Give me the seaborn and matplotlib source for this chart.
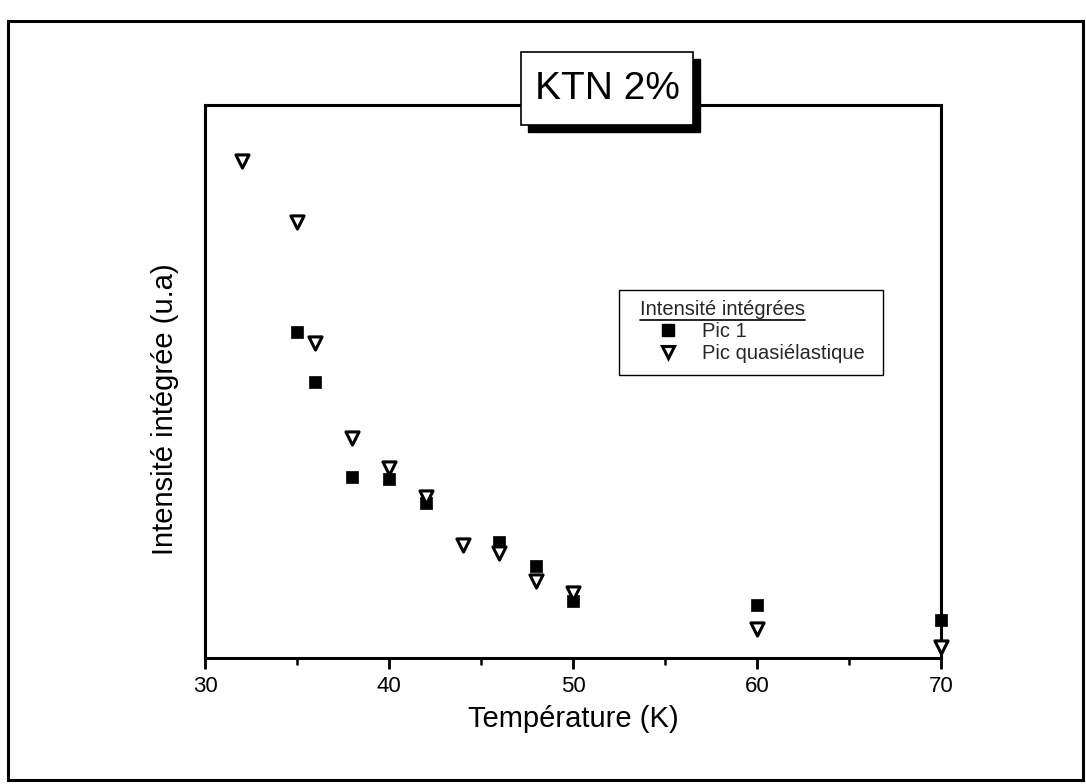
import matplotlib
matplotlib.use("Agg")
import matplotlib.pyplot as plt
from matplotlib.patches import Rectangle
from matplotlib.lines import Line2D
from matplotlib.ticker import MultipleLocator
import seaborn as sns
import pandas as pd

# ---- data (arbitrary units) ----
pic1_T = [35, 36, 38, 40, 42, 46, 48, 50, 60, 70]
pic1_I = [326, 276, 181, 179, 155, 116, 92, 57, 53, 38]
quasi_T = [32, 35, 36, 38, 40, 42, 44, 46, 48, 50, 60, 70]
quasi_I = [497, 436, 315, 220, 190, 161, 113, 105, 77, 65, 29, 11]

title = "KTN 2%"
xlabel = "Température (K)"
ylabel = "Intensité intégrée (u.a)"
legend_title = "Intensité intégrées"
label1 = "Pic 1"
label2 = "Pic quasiélastique"
xticks = [30, 40, 50, 60, 70]

sns.set_theme(style="white")
plt.rcParams["font.family"] = ["Liberation Sans", "DejaVu Sans"]

W, H = 1086, 784
fig = plt.figure(figsize=(W / 100, H / 100), dpi=100)
ax = fig.add_axes([205 / W, 1 - 658 / H, 736 / W, 553 / H])


def ax_frac(px, py):
    return ((px - 205) / 736, (658 - py) / 553)


df1 = pd.DataFrame({"T": pic1_T, "I": pic1_I})
df2 = pd.DataFrame({"T": quasi_T, "I": quasi_I})

sns.scatterplot(data=df1, x="T", y="I", ax=ax, marker="s", s=70,
                color="black", edgecolor="black", linewidth=0.5,
                label=label1, clip_on=False, zorder=3)
sns.scatterplot(data=df2, x="T", y="I", ax=ax, marker="v", s=90,
                facecolor="white", edgecolor="black", linewidth=2.2,
                label=label2, clip_on=False, zorder=4)

ax.set_xlim(30, 70)
ax.set_ylim(0, 553)
ax.set_xticks(xticks)
ax.set_xticklabels([str(t) for t in xticks])
ax.xaxis.set_minor_locator(MultipleLocator(5))
ax.set_yticks([])

for sp in ax.spines.values():
    sp.set_visible(True)
    sp.set_color("black")
    sp.set_linewidth(2.2)

ax.tick_params(axis="x", which="major", direction="out", length=8, width=2,
               color="black", labelsize=16, pad=5, bottom=True, labelcolor="black")
ax.tick_params(axis="x", which="minor", direction="out", length=5, width=1.8,
               color="black", bottom=True)

ax.set_xlabel(xlabel, fontsize=21, color="black")
ax.xaxis.set_label_coords(0.5, -0.085)
ax.set_ylabel(ylabel, fontsize=21, color="black")
ax.yaxis.set_label_coords(-0.036, 0.45)

# legend (frame drawn separately)
handles = [
    Line2D([], [], marker="s", linestyle="none", markersize=8,
           markerfacecolor="black", markeredgecolor="black"),
    Line2D([], [], marker="v", linestyle="none", markersize=9,
           markerfacecolor="white", markeredgecolor="black", markeredgewidth=2.2),
]
leg = ax.legend(handles, [label1, label2], title=legend_title,
                loc="upper left", bbox_to_anchor=ax_frac(640, 300),
                fontsize=14.5, title_fontsize=14.5, frameon=False,
                borderpad=0, labelspacing=0.15,
                handletextpad=0.3, handlelength=2.8, borderaxespad=0,
                alignment="left")
ax.add_patch(Rectangle(ax_frac(619, 375), (883 - 619) / 736, (375 - 290) / 553,
                       transform=ax.transAxes, fill=True, facecolor="white",
                       edgecolor="black", linewidth=1.0, zorder=2, clip_on=False))

# outer frame
fig.patches.append(Rectangle((8 / W, 1 - 780 / H), (1083 - 8) / W, (780 - 21) / H,
                             transform=fig.transFigure, fill=False,
                             edgecolor="black", linewidth=2.2, zorder=0))

# title box with shadow
bx0, bx1, by0, by1 = 521, 693, 52, 125
off = 7
fig.patches.append(Rectangle(((bx0 + off) / W, 1 - (by1 + off) / H),
                             (bx1 - bx0) / W, (by1 - by0) / H,
                             transform=fig.transFigure, facecolor="black",
                             edgecolor="black", zorder=10))
fig.patches.append(Rectangle((bx0 / W, 1 - by1 / H), (bx1 - bx0) / W, (by1 - by0) / H,
                             transform=fig.transFigure, facecolor="white",
                             edgecolor="black", linewidth=1.2, zorder=11))
fig.text((bx0 + bx1) / 2 / W, 1 - 89 / H, title, fontsize=28, ha="center",
         va="center", color="black", zorder=12)

# underline the legend title
fig.canvas.draw()
tb = leg.get_title().get_window_extent()
inv = fig.transFigure.inverted()
(x0, y0) = inv.transform((tb.x0, tb.y0 - 1))
(x1, _) = inv.transform((tb.x1, tb.y0 - 1))
fig.lines.append(Line2D([x0, x1], [y0, y0], transform=fig.transFigure,
                        color="black", linewidth=1.2, zorder=20))

fig.savefig("out.png", dpi=100, facecolor="white")
